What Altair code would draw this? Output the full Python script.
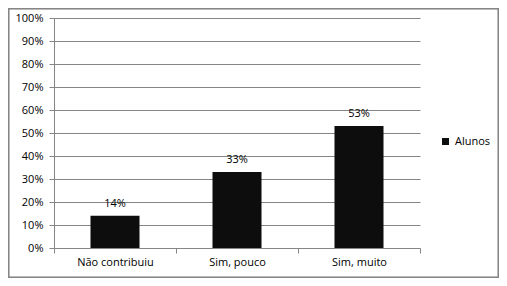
import altair as alt
import pandas as pd

categories = ["Não contribuiu", "Sim, pouco", "Sim, muito"]
values = [0.14, 0.33, 0.53]
series = "Alunos"
ticks = [0.0, 0.1, 0.2, 0.3, 0.4, 0.5, 0.6, 0.7, 0.8, 0.9, 1.0]

df = pd.DataFrame({"cat": categories, "val": values, "serie": [series] * 3})
df["label"] = [f"{round(v*100)}%" for v in values]

FONT = "Open Sans"
GRAY = "#868686"

x = alt.X("cat:N", sort=categories, title=None,
          scale=alt.Scale(paddingInner=0, paddingOuter=0),
          axis=alt.Axis(labelAngle=0, tickBand="extent", tickSize=5, tickColor=GRAY,
                        domainColor=GRAY, labelPadding=3, labelFontSize=11,
                        labelFont=FONT, labelColor="#000"))
y = alt.Y("val:Q", title=None,
          scale=alt.Scale(domain=[0, 1], nice=False),
          axis=alt.Axis(format=".0%", values=ticks, tickSize=5, labelOverlap=False,
                        tickColor=GRAY, domainColor=GRAY, gridColor=GRAY,
                        labelPadding=6, labelFontSize=11, labelFont=FONT,
                        labelColor="#000"))

bars = alt.Chart(df).mark_bar(size=49, color="#0d0d0d").encode(
    x=x, y=y,
    color=alt.Color("serie:N", scale=alt.Scale(range=["#0d0d0d"]),
                    legend=alt.Legend(title=None, orient="none", legendX=386, legendY=118,
                                      symbolType="square", symbolSize=49,
                                      labelFont=FONT, labelFontSize=11,
                                      labelColor="#000", symbolStrokeWidth=0)))

labels = alt.Chart(df).mark_text(baseline="bottom", dy=-7, font=FONT, fontSize=11,
                                 color="#000").encode(x=x, y=y, text="label:N")

frame = alt.Chart(df).mark_rect(fill=None, stroke=GRAY, strokeWidth=1.5, clip=False).encode(
    x=alt.value(-45.5), x2=alt.value(444.5), y=alt.value(-9.5), y2=alt.value(259.5))

chart = alt.layer(bars, labels, frame).properties(
    width=366, height=230,
    padding={"left": 46, "top": 10, "right": 79, "bottom": 30},
    autosize=alt.AutoSizeParams(type="none"),
).configure_view(stroke=None)

chart.save("out.html", embed_options={"renderer": "svg", "actions": False})
